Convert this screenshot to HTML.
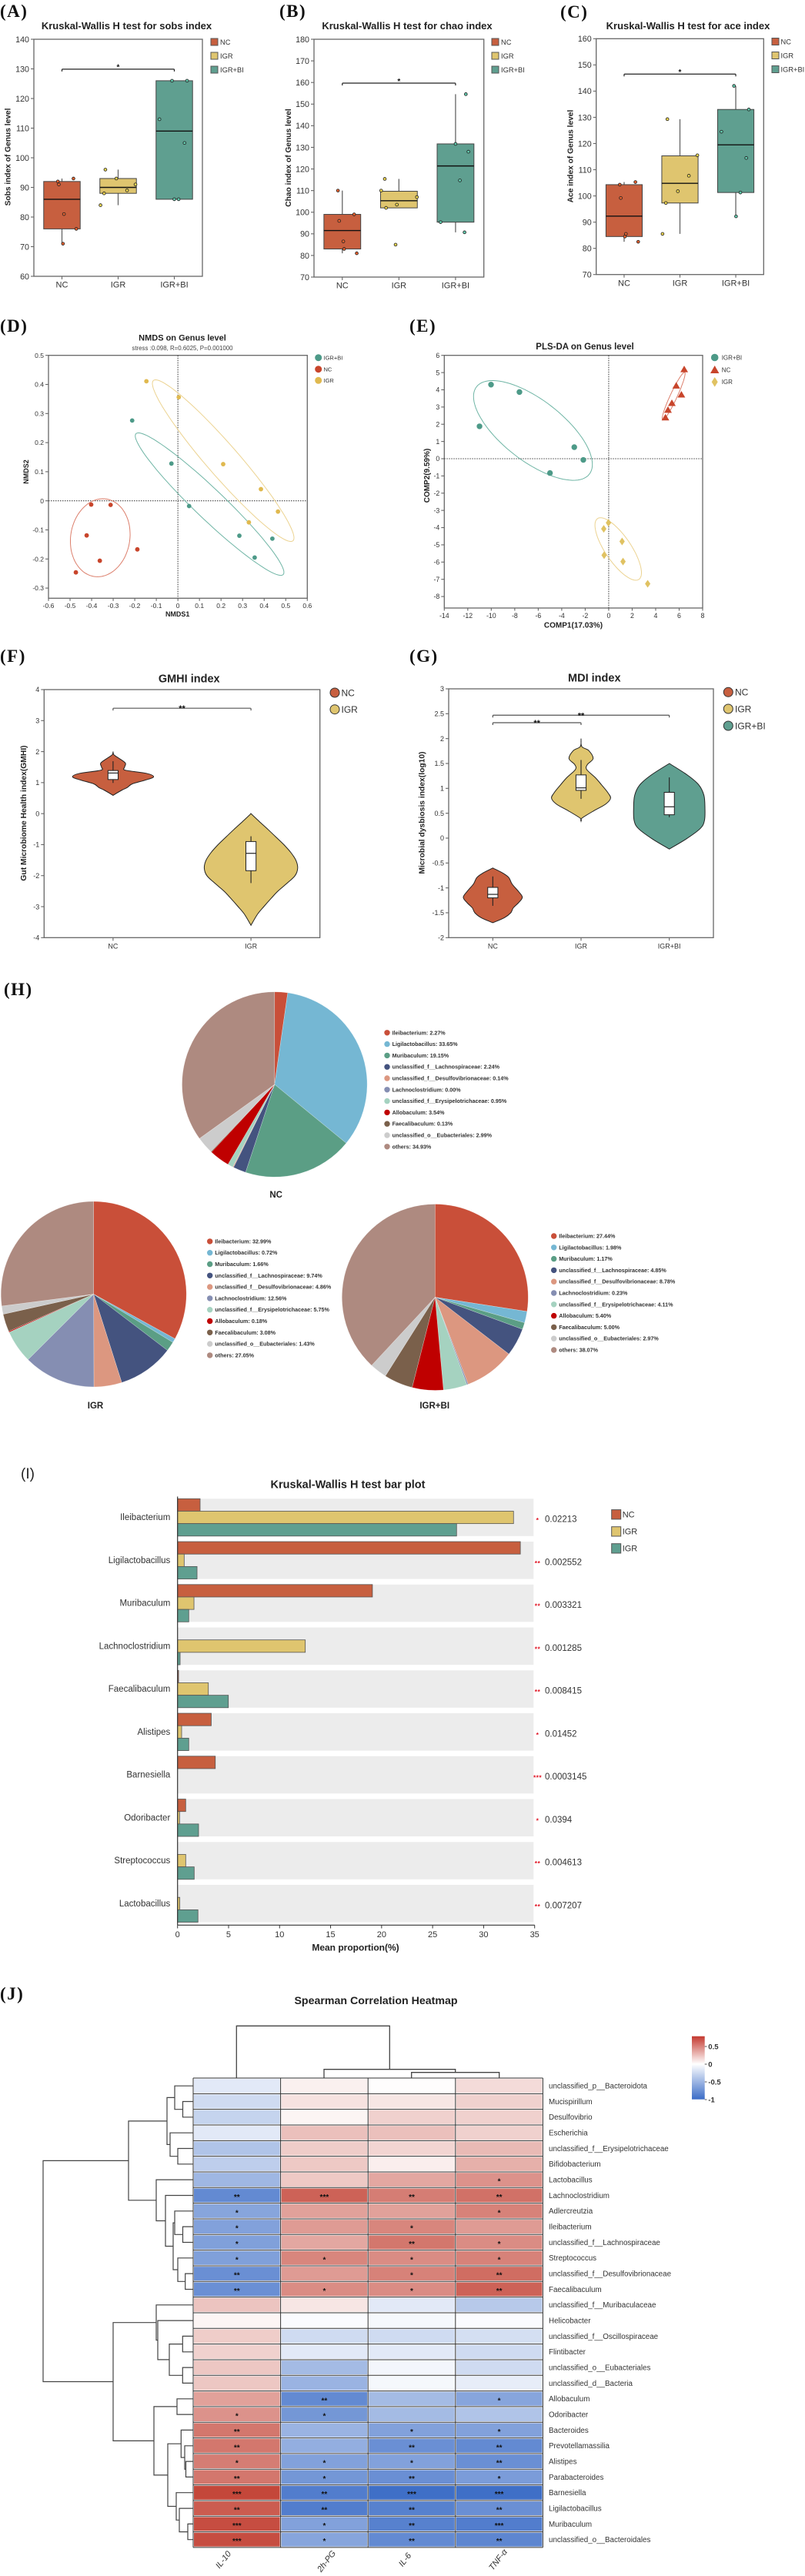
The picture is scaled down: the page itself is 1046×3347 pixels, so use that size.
<!DOCTYPE html>
<html lang="en">
<head>
<meta charset="utf-8">
<title>Gut microbiota figure</title>
<style>
html,body{margin:0;padding:0;background:#fff;}
svg{display:block;font-family:"Liberation Sans",sans-serif;}
.pl{font-family:"Liberation Serif",serif;font-weight:bold;font-size:23px;letter-spacing:1.5px;fill:#111;}
.t{font-weight:bold;fill:#222;text-anchor:middle;}
.yl{font-weight:bold;fill:#222;text-anchor:middle;}
.lg{fill:#333;}
.pie-l{font-weight:bold;font-size:7.2px;fill:#333;}
</style>
</head>
<body>
<svg id="root" xmlns="http://www.w3.org/2000/svg" width="1046" height="3347" viewBox="0 0 1046 3347">
<defs>
<linearGradient id="cbar" x1="0" y1="0" x2="0" y2="1">
<stop offset="0" stop-color="#c4392f"/>
<stop offset="0.44" stop-color="#ffffff"/>
<stop offset="1" stop-color="#3b6cc7"/>
</linearGradient>
</defs>
<rect x="0" y="0" width="1046" height="3347" fill="#fff"/>

<text class="pl" x="0" y="22">(A)</text>
<text class="pl" x="363" y="22">(B)</text>
<text class="pl" x="728" y="23">(C)</text>
<text class="pl" x="0" y="431">(D)</text>
<text class="pl" x="532" y="431">(E)</text>
<text class="pl" x="0" y="860">(F)</text>
<text class="pl" x="532" y="860">(G)</text>
<text class="pl" x="5" y="1293">(H)</text>
<text x="27" y="1921" font-size="19" fill="#222">(I)</text>
<text class="pl" x="0" y="2598">(J)</text>

<g id="panel-a">
<text class="t" x="164.5" y="38" font-size="13">Kruskal-Wallis H test for sobs index</text>
<text class="yl" font-size="10.2" transform="translate(13.5,204) rotate(-90)">Sobs index of Genus level</text>
</g>
<g id="panel-b">
<text class="t" x="529" y="38" font-size="13">Kruskal-Wallis H test for chao index</text>
<text class="yl" font-size="10.2" transform="translate(378,205) rotate(-90)">Chao index of Genus level</text>
</g>
<g id="panel-c">
<text class="t" x="894" y="38" font-size="13">Kruskal-Wallis H test for ace index</text>
<text class="yl" font-size="10.2" transform="translate(744.5,203) rotate(-90)">Ace index of Genus level</text>
</g>

<g>
<rect x="274" y="50" width="9" height="9" fill="#c75f3f" stroke="#555"/>
<text class="lg" x="286" y="58" font-size="9.3">NC</text>
<rect x="274" y="68" width="9" height="9" fill="#dfc56f" stroke="#555"/>
<text class="lg" x="286" y="76" font-size="9.3">IGR</text>
<rect x="274" y="86" width="9" height="9" fill="#5f9f90" stroke="#555"/>
<text class="lg" x="286" y="94" font-size="9.3">IGR+BI</text>
</g>
<g>
<rect x="639" y="50" width="9" height="9" fill="#c75f3f" stroke="#555"/>
<text class="lg" x="651" y="58" font-size="9.3">NC</text>
<rect x="639" y="68" width="9" height="9" fill="#dfc56f" stroke="#555"/>
<text class="lg" x="651" y="76" font-size="9.3">IGR</text>
<rect x="639" y="86" width="9" height="9" fill="#5f9f90" stroke="#555"/>
<text class="lg" x="651" y="94" font-size="9.3">IGR+BI</text>
</g>
<g>
<rect x="1003" y="49.5" width="9" height="9" fill="#c75f3f" stroke="#555"/>
<text class="lg" x="1014.5" y="57.5" font-size="9.3">NC</text>
<rect x="1003" y="67.5" width="9" height="9" fill="#dfc56f" stroke="#555"/>
<text class="lg" x="1014.5" y="75.5" font-size="9.3">IGR</text>
<rect x="1003" y="85.5" width="9" height="9" fill="#5f9f90" stroke="#555"/>
<text class="lg" x="1014.5" y="93.5" font-size="9.3">IGR+BI</text>
</g>

<g id="panel-d">
<text class="t" x="237" y="442.5" font-size="11">NMDS on Genus level</text>
<text x="237" y="455" font-size="7.9" fill="#444" text-anchor="middle">stress :0.098, R=0.6025, P=0.001000</text>
<text class="t" x="230.7" y="801" font-size="9">NMDS1</text>
<text class="yl" font-size="9" transform="translate(37,613) rotate(-90)">NMDS2</text>
<circle cx="413.7" cy="464.7" r="4.5" fill="#4d9a88"/>
<text class="lg" x="420.5" y="467.5" font-size="7.5">IGR+BI</text>
<circle cx="413.7" cy="479.7" r="4.5" fill="#c8452b"/>
<text class="lg" x="420.5" y="482.5" font-size="7.5">NC</text>
<circle cx="413.7" cy="494.3" r="4.5" fill="#e0b94f"/>
<text class="lg" x="420.5" y="497" font-size="7.5">IGR</text>
</g>

<g id="panel-e">
<text class="t" x="760" y="454" font-size="11.5">PLS-DA on Genus level</text>
<text class="t" x="745" y="815.5" font-size="10">COMP1(17.03%)</text>
<text class="yl" font-size="10" transform="translate(558,618) rotate(-90)">COMP2(9.59%)</text>
<circle cx="928.7" cy="464.5" r="4.8" fill="#4d9a88"/>
<text class="lg" x="937.7" y="467.5" font-size="8">IGR+BI</text>
<polygon points="923,485 934.4,485 928.7,475" fill="#c8452b"/>
<text class="lg" x="937.7" y="483.5" font-size="8">NC</text>
<polygon points="928.7,490 932.7,496.3 928.7,502.6 924.7,496.3" fill="#e0c262"/>
<text class="lg" x="937.7" y="499" font-size="8">IGR</text>
</g>

<g id="panel-f">
<text class="t" x="245.7" y="886.7" font-size="14.5">GMHI index</text>
<text class="yl" font-size="10.3" transform="translate(34,1056.5) rotate(-90)">Gut Microbiome Health index(GMHI)</text>
<circle cx="435" cy="900" r="6" fill="#c75f3f" stroke="#333"/>
<text class="lg" x="443.5" y="904.5" font-size="12">NC</text>
<circle cx="435" cy="921.7" r="6" fill="#dfc56f" stroke="#333"/>
<text class="lg" x="443.5" y="926" font-size="12">IGR</text>
</g>

<g id="panel-g">
<text class="t" x="772.3" y="885.7" font-size="14.5">MDI index</text>
<text class="yl" font-size="10.3" transform="translate(551.5,1056) rotate(-90)">Microbial dysbiosis index(log10)</text>
<circle cx="946.3" cy="899.3" r="6" fill="#c75f3f" stroke="#333"/>
<text class="lg" x="955" y="903.7" font-size="12">NC</text>
<circle cx="946.3" cy="921" r="6" fill="#dfc56f" stroke="#333"/>
<text class="lg" x="955" y="925.4" font-size="12">IGR</text>
<circle cx="946.3" cy="943" r="6" fill="#5f9f90" stroke="#333"/>
<text class="lg" x="955" y="947.4" font-size="12">IGR+BI</text>
</g>

<g id="panel-h">
<text x="358.7" y="1556" font-size="11.5" font-weight="bold" fill="#222" text-anchor="middle">NC</text>
<text x="124" y="1830" font-size="11.5" font-weight="bold" fill="#222" text-anchor="middle">IGR</text>
<text x="564.7" y="1830" font-size="11.5" font-weight="bold" fill="#222" text-anchor="middle">IGR+BI</text>
</g>

<g id="panel-i">
<text class="t" x="452" y="1933.5" font-size="14.5">Kruskal-Wallis H test bar plot</text>
<text class="t" x="462" y="2534.5" font-size="12">Mean proportion(%)</text>
</g>
<g>
<rect x="794.7" y="1961.6" width="12" height="12.3" fill="#c75f3f" stroke="#555"/>
<text class="lg" x="808.7" y="1971.5" font-size="11">NC</text>
<rect x="794.7" y="1983.7" width="12" height="12.3" fill="#dfc56f" stroke="#555"/>
<text class="lg" x="808.7" y="1993.5" font-size="11">IGR</text>
<rect x="794.7" y="2005.7" width="12" height="12.3" fill="#5f9f90" stroke="#555"/>
<text class="lg" x="808.7" y="2015.5" font-size="11">IGR</text>
</g>

<g id="panel-j">
<text class="t" x="488.5" y="2604" font-size="14.2">Spearman Correlation Heatmap</text>
<text x="0" y="0" font-size="11" font-style="italic" fill="#333" text-anchor="middle" transform="translate(293,3328) rotate(-52)">IL-10</text>
<text x="0" y="0" font-size="11" font-style="italic" fill="#333" text-anchor="middle" transform="translate(427,3330) rotate(-52)">2h-PG</text>
<text x="0" y="0" font-size="11" font-style="italic" fill="#333" text-anchor="middle" transform="translate(529,3328) rotate(-52)">IL-6</text>
<text x="0" y="0" font-size="11" font-style="italic" fill="#333" text-anchor="middle" transform="translate(650,3328) rotate(-52)">TNF-α</text>
<rect x="899" y="2645.7" width="16.7" height="82" fill="url(#cbar)"/>
<text x="920.3" y="2662.5" font-size="9.5" font-weight="bold" fill="#333">0.5</text>
<text x="920.3" y="2685.5" font-size="9.5" font-weight="bold" fill="#333">0</text>
<text x="920.3" y="2708.5" font-size="9.5" font-weight="bold" fill="#333">-0.5</text>
<text x="920.3" y="2731.5" font-size="9.5" font-weight="bold" fill="#333">-1</text>
<path d="M307.3 2700V2632.3H506.3V2688.7M421 2700V2688.7H591.7V2692.7M534.7 2700V2692.7H648.7V2700" fill="none" stroke="#444" stroke-width="1.3"/>
</g>

<script>
/* ---------- box plot data ---------- */
const boxCats = ['NC','IGR','IGR+BI'];
const boxFills = ['#c75f3f','#dfc56f','#5f9f90'];
const pointFills = ['#e8612e','#f0d751','#62c9ad'];

const sobsTicks = [60,70,80,90,100,110,120,130,140];
const sobsLow  = [71,84,86];
const sobsQ1   = [76,88,86];
const sobsMed  = [86,90,109];
const sobsQ3   = [92,93,126];
const sobsHigh = [93,96,126];
const sobsPtsY = [[92,91,93,81,76,71],[96,93,91,89,88,84],[126,126,113,105,86,86]];
const sobsPtsJ = [[-.073,-.055,.205,.036,.255,.018],[-.227,-.032,.309,.159,-.25,-.314],[-.041,.227,-.264,.182,0,.077]];

const chaoTicks = [70,80,90,100,110,120,130,140,150,160,170,180];
const chaoLow  = [81,102,90.7];
const chaoQ1   = [83,102,95.4];
const chaoMed  = [91.5,105.3,121.4];
const chaoQ3   = [99,109.7,131.6];
const chaoHigh = [110,115.4,154.6];
const chaoPtsY = [[110,99,96,86.5,83,81],[115.4,110,102,103.5,85,107],[154.6,131.6,128,114.7,95.4,90.7]];
const chaoPtsJ = [[-.077,.209,-.055,.018,.032,.255],[-.25,-.314,-.227,-.036,-.059,.318],[.182,0,.227,.077,-.264,.159]];

const aceTicks = [70,80,90,100,110,120,130,140,150,160];
const aceLow  = [82.5,85.5,92.2];
const aceQ1   = [84.5,97.3,101.3];
const aceMed  = [92.3,104.8,119.5];
const aceQ3   = [104.3,115.3,133];
const aceHigh = [105.3,129.3,142];
const acePtsY = [[104.3,105.3,99.2,85.5,84.5,82.5],[129.3,115.5,107.7,101.8,97.3,85.5],[142,133,124.5,114.5,101.3,92.2]];
const acePtsJ = [[-.078,.202,-.06,.032,.014,.252],[-.225,.312,.16,-.037,-.252,-.312],[-.032,.234,-.257,.188,.083,.005]];

/* ---------- NMDS ---------- */
const nmdsXTicks = [-0.6,-0.5,-0.4,-0.3,-0.2,-0.1,0,0.1,0.2,0.3,0.4,0.5,0.6];
const nmdsYTicks = [-0.3,-0.2,-0.1,0,0.1,0.2,0.3,0.4,0.5];
const nmdsBiX = [-.212,-.03,.052,.285,.356,.438];
const nmdsBiY = [.276,.128,-.018,-.12,-.195,-.13];
const nmdsNcX = [-.402,-.312,-.423,-.188,-.362,-.473];
const nmdsNcY = [-.013,-.014,-.119,-.167,-.206,-.246];
const nmdsIgX = [-.146,.004,.21,.385,.464,.329];
const nmdsIgY = [.411,.356,.126,.04,-.037,-.074];
const nmdsEllBi = [.147,-.0114,.3413,-.2421,.0476,.037];
const nmdsEllNc = [-.36,-.127,.0214,.1338,.1368,-.0088];
const nmdsEllIg = [.21,.138,.3235,-.2755,.0557,.0358];

/* ---------- PLS-DA ---------- */
const plsXTicks = [-14,-12,-10,-8,-6,-4,-2,0,2,4,6,8];
const plsYTicks = [-8,-7,-6,-5,-4,-3,-2,-1,0,1,2,3,4,5,6];
const plsBiX = [-10.02,-7.6,-11,-2.93,-2.16,-5];
const plsBiY = [4.3,3.87,1.88,.67,-.07,-.83];
const plsNcX = [6.43,5.75,6.19,5.38,5.05,4.83];
const plsNcY = [5.2,4.25,3.73,3.24,2.84,2.4];
const plsIgX = [-.02,-.42,1.14,-.39,1.22,3.32];
const plsIgY = [-3.72,-4.07,-4.8,-5.6,-5.97,-7.26];
const plsEllBi = [-6.45,1.64,4.8,-2.54,1.6,1.39];
const plsEllNc = [5.53,3.63,.94,1.38,.262,-.089];
const plsEllIg = [.81,-5.24,1.758,-1.766,.91,.416];

/* ---------- violins: value / density pairs ---------- */
const gmhiTicks = [-4,-3,-2,-1,0,1,2,3,4];
const gmhiCats = ['NC','IGR'];
const gmhiNcVal = [2.0,1.9,1.79,1.63,1.5,1.4,1.3,1.19,1.09,.96,.84,.76,.59];
const gmhiNcDen = [0,3,22,48,45,48,130,158,130,75,55,35,0];
const gmhiIgVal = [0,-.25,-.5,-.75,-1,-1.25,-1.5,-1.75,-2,-2.25,-2.5,-2.72,-3,-3.25,-3.6];
const gmhiIgDen = [0,32,65,97,128,155,175,182,172,140,105,80,50,25,0];
const gmhiLow = [.99,-2.24], gmhiQ1 = [1.1,-1.84], gmhiMed = [1.31,-1.28], gmhiQ3 = [1.39,-.9], gmhiHigh = [1.69,-.73];

const mdiTicks = [-2,-1.5,-1,-0.5,0,0.5,1,1.5,2,2.5,3];
const mdiNcVal = [-.6,-.7,-.79,-.92,-1.07,-1.19,-1.3,-1.4,-1.5,-1.6,-1.7];
const mdiNcDen = [0,38,62,75,100,115,100,80,70,45,0];
const mdiIgVal = [2.0,1.84,1.76,1.6,1.48,1.38,1.22,1.07,.91,.8,.68,.55,.4,.34];
const mdiIgDen = [0,3,30,47,25,22,55,80,105,115,95,50,3,0];
const mdiBiVal = [1.5,1.27,1.07,.86,.6,.35,.19,-.02,-.22];
const mdiBiDen = [0,70,115,135,139,137,120,65,0];
const mdiLow = [-1.36,.79,.42], mdiQ1 = [-1.2,.96,.47], mdiMed = [-1.13,1.01,.63], mdiQ3 = [-.99,1.27,.92], mdiHigh = [-.77,1.57,1.22];

/* ---------- pies ---------- */
const pieGenera = ['Ileibacterium','Ligilactobacillus','Muribaculum','unclassified_f__Lachnospiraceae','unclassified_f__Desulfovibrionaceae','Lachnoclostridium','unclassified_f__Erysipelotrichaceae','Allobaculum','Faecalibaculum','unclassified_o__Eubacteriales','others'];
const pieColors = ['#c94f39','#75b7d3','#5b9e85','#44537f','#dc9780','#858eb2','#a5d2c0','#bf0000','#7a604b','#cccccc','#ae8a80'];
const pieNc = [2.27,33.65,19.15,2.24,0.14,0.00,0.95,3.54,0.13,2.99,34.93];
const pieIgr = [32.99,0.72,1.66,9.74,4.86,12.56,5.75,0.18,3.08,1.43,27.05];
const pieBi = [27.44,1.98,1.17,4.85,8.78,0.23,4.11,5.40,5.00,2.97,38.07];

/* ---------- bar plot ---------- */
const barGenera = ['Ileibacterium','Ligilactobacillus','Muribaculum','Lachnoclostridium','Faecalibaculum','Alistipes','Barnesiella','Odoribacter','Streptococcus','Lactobacillus'];
const barNc = [2.21,33.6,19.1,0,.1,3.3,3.7,.8,0,0];
const barIgr = [32.93,.65,1.61,12.52,3.02,.4,0,.2,.8,.22];
const barBi = [27.35,1.91,1.1,.25,4.98,1.1,0,2.06,1.63,2];
const barP = ['0.02213','0.002552','0.003321','0.001285','0.008415','0.01452','0.0003145','0.0394','0.004613','0.007207'];
const barSig = ['*','**','**','**','**','*','***','*','**','**'];
const barTicks = [0,5,10,15,20,25,30,35];

/* ---------- heatmap ---------- */
const heatRows = ['unclassified_p__Bacteroidota','Mucispirillum','Desulfovibrio','Escherichia','unclassified_f__Erysipelotrichaceae','Bifidobacterium','Lactobacillus','Lachnoclostridium','Adlercreutzia','Ileibacterium','unclassified_f__Lachnospiraceae','Streptococcus','unclassified_f__Desulfovibrionaceae','Faecalibaculum','unclassified_f__Muribaculaceae','Helicobacter','unclassified_f__Oscillospiraceae','Flintibacter','unclassified_o__Eubacteriales','unclassified_d__Bacteria','Allobaculum','Odoribacter','Bacteroides','Prevotellamassilia','Alistipes','Parabacteroides','Barnesiella','Ligilactobacillus','Muribaculum','unclassified_o__Bacteroidales'];
const heatValues = [
[-.12,.07,.01,.17],[-.2,.14,.12,.22],[-.24,.05,.22,.22],[-.12,.3,.3,.22],[-.33,.24,.2,.33],
[-.27,.26,.08,.38],[-.4,.26,.42,.52],[-.65,.75,.62,.68],[-.5,.45,.45,.6],[-.52,.48,.58,.48],
[-.53,.42,.65,.55],[-.53,.58,.55,.6],[-.62,.48,.6,.7],[-.62,.55,.55,.75],[.28,.12,-.12,-.3],
[.05,-.02,-.04,-.02],[.24,-.2,-.2,-.18],[.22,-.12,-.12,-.2],[.27,-.38,-.05,-.2],[.27,-.42,-.04,-.1],
[.45,-.65,-.38,-.5],[.52,-.58,-.38,-.33],[.65,-.42,-.52,-.52],[.65,-.45,-.62,-.65],[.62,-.52,-.52,-.62],
[.65,-.58,-.62,-.55],[.9,-.72,-.82,-.8],[.78,-.72,-.7,-.62],[.85,-.52,-.7,-.72],[.85,-.5,-.65,-.67]];
const heatSig = [
[0,0,0,0],[0,0,0,0],[0,0,0,0],[0,0,0,0],[0,0,0,0],[0,0,0,0],[0,0,0,1],[2,3,2,2],[1,0,0,1],[1,0,1,0],
[1,0,2,1],[1,1,1,1],[2,0,1,2],[2,1,1,2],[0,0,0,0],[0,0,0,0],[0,0,0,0],[0,0,0,0],[0,0,0,0],[0,0,0,0],
[0,2,0,1],[1,1,0,0],[2,0,1,1],[2,0,2,2],[1,1,1,2],[2,1,2,1],[3,2,3,3],[2,2,2,2],[3,1,2,3],[3,1,2,2]];
/* row dendrogram: [merge distance, left child, right child]; a number is a row index */
const rowTree = [195,
  [84,
    [34,[24,0,[13.5,1,2]],[30,3,[20,4,5]]],
    [48,6,[36,7,[26,[24,8,[13.5,9,10]],[20,11,[10.3,12,13]]]]]],
  [104,
    [48,14,[46,15,[31,[13.7,16,17],[13.7,18,19]]]],
    [51,[21,20,21],[33,[15.7,22,[11,23,[9.5,24,25]]],[22,26,[18,27,[7,28,29]]]]]]];

/* ---------- helpers ---------- */
const NS = 'http://www.w3.org/2000/svg';
const root = document.getElementById('root');
function mk(tag, attrs, parent){
  const e = document.createElementNS(NS, tag);
  for (const k in attrs) e.setAttribute(k, attrs[k]);
  (parent || root).appendChild(e);
  return e;
}
function label(str, attrs, parent){
  const e = mk('text', attrs, parent);
  e.textContent = str;
  return e;
}
function linear(d0, d1, r0, r1){ return v => r0 + (v - d0) / (d1 - d0) * (r1 - r0); }
const AXIS = '#666';

function frame(g, b, yTicks, sy, fs, xTicksFn){
  const fr = mk('rect', {x:b.l,y:b.t,width:b.r-b.l,height:b.b-b.t,fill:'none',stroke:AXIS,'stroke-width':1.3}, g);
  
  
  yTicks.forEach(v => {
    const t = mk('line', {x1:b.l-4,x2:b.l,y1:sy(v),y2:sy(v),stroke:AXIS,'stroke-width':1.1}, g);
    
    
    const l = label(String(v), {x:b.l-6,y:sy(v)+fs*0.36,'font-size':fs,fill:'#333','text-anchor':'end'}, g);
    
    
  });
  xTicksFn();
}
function catTicks(g, b, cats, cx, fs, base){
  cats.forEach((c, i) => {
    const t = mk('line', {x1:cx(i),x2:cx(i),y1:b.b,y2:b.b+4,stroke:AXIS,'stroke-width':1.1}, g);
    
    
    const l = label(c, {x:cx(i),y:base,'font-size':fs,fill:'#333','text-anchor':'middle'}, g);
    
    
  });
}
function bracket(g, x1, x2, y, stroke, sig, fs, dy){
  const p = mk('path', {d:`M${x1} ${y+3}V${y+1}Q${x1} ${y} ${x1+1} ${y}H${x2-1}Q${x2} ${y} ${x2} ${y+1}V${y+3}`,fill:'none',stroke:stroke,'stroke-width':1.2}, g);
  
  
  const s = label(sig, {x:(x1+x2)/2,y:y+dy,'font-size':fs,'font-weight':'bold',fill:'#111','text-anchor':'middle'}, g);
  
  
}

function boxPlot(gid, b, ticks, base, low, q1, med, q3, high, ptsY, ptsJ, brVal){
  const g = document.getElementById(gid);
  const sy = linear(ticks[0], ticks[ticks.length-1], b.b, b.t);
  const band = (b.r - b.l) / boxCats.length;
  const cx = i => b.l + (i + .5) * band;
  const w = band * 0.65;
  frame(g, b, ticks, sy, 10.7, () => catTicks(g, b, boxCats, cx, 11, base));
  boxCats.forEach((c, i) => {
    const wh = mk('line', {x1:cx(i),x2:cx(i),y1:sy(high[i]),y2:sy(low[i]),stroke:'#666','stroke-width':1.3}, g);
    
    
    const r = mk('rect', {x:cx(i)-w/2,y:sy(q3[i]),width:w,height:sy(q1[i])-sy(q3[i]),fill:boxFills[i],stroke:'#444','stroke-width':1}, g);
    
    
    const m = mk('line', {x1:cx(i)-w/2,x2:cx(i)+w/2,y1:sy(med[i]),y2:sy(med[i]),stroke:'#111','stroke-width':1.4}, g);
    
    
    ptsY[i].forEach((v, k) => {
      const d = mk('circle', {cx:cx(i)+ptsJ[i][k]*band,cy:sy(v),r:1.9,fill:pointFills[i],stroke:'#222','stroke-width':.8}, g);
      
      
    });
  });
  bracket(g, cx(0), cx(2), sy(brVal), '#222', '*', 10, 0.8);
}

function ell(g, e, sx, sy, color){
  let pts = [];
  for (let i = 0; i < 96; i++){
    const t = i / 96 * Math.PI * 2;
    const x = e[0] + e[2]*Math.cos(t) + e[4]*Math.sin(t);
    const y = e[1] + e[3]*Math.cos(t) + e[5]*Math.sin(t);
    pts.push(sx(x).toFixed(1) + ',' + sy(y).toFixed(1));
  }
  const p = mk('polygon', {points:pts.join(' '),fill:'none',stroke:color,'stroke-width':1}, g);
  
  
}
function scatterFrame(g, b, xTicks, yTicks, sx, sy, fs, base){
  frame(g, b, yTicks, sy, fs, () => {
    xTicks.forEach(v => {
      const t = mk('line', {x1:sx(v),x2:sx(v),y1:b.b,y2:b.b+3.5,stroke:AXIS,'stroke-width':1.1}, g);
      
      
      const l = label(String(v), {x:sx(v),y:base,'font-size':fs,fill:'#333','text-anchor':'middle'}, g);
      
      
    });
  });
  const h = mk('line', {x1:b.l,x2:b.r,y1:sy(0),y2:sy(0),stroke:'#444','stroke-width':1.1,'stroke-dasharray':'1.5 1.5'}, g);
  
  
  const v = mk('line', {x1:sx(0),x2:sx(0),y1:b.t,y2:b.b,stroke:'#444','stroke-width':1.1,'stroke-dasharray':'1.5 1.5'}, g);
  
  
}

/* ---------- draw box plots ---------- */
boxPlot('panel-a',{l:44,r:263,t:51,b:359},sobsTicks,373.3,sobsLow,sobsQ1,sobsMed,sobsQ3,sobsHigh,sobsPtsY,sobsPtsJ,129.9);
boxPlot('panel-b',{l:408,r:628.7,t:51,b:360},chaoTicks,374.5,chaoLow,chaoQ1,chaoMed,chaoQ3,chaoHigh,chaoPtsY,chaoPtsJ,159.7);
boxPlot('panel-c',{l:774.7,r:992.3,t:50.3,b:356.7},aceTicks,371.3,aceLow,aceQ1,aceMed,aceQ3,aceHigh,acePtsY,acePtsJ,146.5);

/* ---------- NMDS ---------- */
(function(){
  const g = document.getElementById('panel-d');
  const b = {l:63,r:399.3,t:461.7,b:777.3};
  const sx = linear(-0.6,0.6,b.l,b.r);
  const sy = linear(0,0.5,650.7,461.7);
  scatterFrame(g,b,nmdsXTicks,nmdsYTicks,sx,sy,8.5,790);
  ell(g,nmdsEllBi,sx,sy,'#6fb5a5');
  ell(g,nmdsEllNc,sx,sy,'#dc7f6c');
  ell(g,nmdsEllIg,sx,sy,'#ecd391');
  nmdsBiX.forEach((x,i) => {
    const c = mk('circle',{cx:sx(x),cy:sy(nmdsBiY[i]),r:2.9,fill:'#4d9a88'},g);
    
    
  });
  nmdsNcX.forEach((x,i) => {
    const c = mk('circle',{cx:sx(x),cy:sy(nmdsNcY[i]),r:2.9,fill:'#c8452b'},g);
    
    
  });
  nmdsIgX.forEach((x,i) => {
    const c = mk('circle',{cx:sx(x),cy:sy(nmdsIgY[i]),r:2.9,fill:'#e0b94f'},g);
    
    
  });
})();

/* ---------- PLS-DA ---------- */
(function(){
  const g = document.getElementById('panel-e');
  const b = {l:577.3,r:913,t:461.7,b:790};
  const sx = linear(-14,8,b.l,b.r);
  const sy = linear(0,6,596,461.7);
  scatterFrame(g,b,plsXTicks,plsYTicks,sx,sy,8.8,803);
  ell(g,plsEllBi,sx,sy,'#6fb5a5');
  ell(g,plsEllNc,sx,sy,'#dc7f6c');
  ell(g,plsEllIg,sx,sy,'#ecd391');
  plsBiX.forEach((x,i) => {
    const c = mk('circle',{cx:sx(x),cy:sy(plsBiY[i]),r:3.7,fill:'#4d9a88'},g);
    
    
  });
  plsNcX.forEach((x,i) => {
    const X = sx(x), Y = sy(plsNcY[i]);
    const c = mk('polygon',{points:`${X-5},${Y+4} ${X+5},${Y+4} ${X},${Y-4.5}`,fill:'#c8452b'},g);
    
    
  });
  plsIgX.forEach((x,i) => {
    const X = sx(x), Y = sy(plsIgY[i]);
    const c = mk('polygon',{points:`${X},${Y-5} ${X+3.5},${Y} ${X},${Y+5} ${X-3.5},${Y}`,fill:'#e0c262'},g);
    
    
  });
})();

/* ---------- violins ---------- */
function curve(pts){
  let d = '';
  for (let i = 0; i < pts.length-1; i++){
    const p0 = pts[Math.max(i-1,0)], p1 = pts[i], p2 = pts[i+1], p3 = pts[Math.min(i+2,pts.length-1)];
    const c1 = [p1[0]+(p2[0]-p0[0])/6, p1[1]+(p2[1]-p0[1])/6];
    const c2 = [p2[0]-(p3[0]-p1[0])/6, p2[1]-(p3[1]-p1[1])/6];
    d += `C${c1[0].toFixed(1)} ${c1[1].toFixed(1)} ${c2[0].toFixed(1)} ${c2[1].toFixed(1)} ${p2[0].toFixed(1)} ${p2[1].toFixed(1)}`;
  }
  return d;
}
function violin(g, x, sy, vals, dens, color){
  const right = vals.map((v,i) => [x+dens[i]/3, sy(v)]);
  const left = vals.map((v,i) => [x-dens[i]/3, sy(v)]).reverse();
  const d = `M${right[0][0]} ${right[0][1]}` + curve(right) + curve(left) + 'Z';
  const p = mk('path',{d:d,fill:color,stroke:'#222','stroke-width':1},g);
  
  
}
function miniBox(g, x, sy, low, q1, med, q3, high){
  const l = mk('line',{x1:x,x2:x,y1:sy(high),y2:sy(low),stroke:'#222','stroke-width':1.1},g);
  
  
  const r = mk('rect',{x:x-6.6,y:sy(q3),width:13.2,height:sy(q1)-sy(q3),fill:'#fff',stroke:'#222','stroke-width':1},g);
  
  
  const m = mk('line',{x1:x-6.6,x2:x+6.6,y1:sy(med),y2:sy(med),stroke:'#222','stroke-width':1.2},g);
  
  
}
(function(){
  const g = document.getElementById('panel-f');
  const b = {l:57.3,r:415.7,t:896,b:1218.3};
  const sy = linear(-4,4,b.b,b.t);
  const band = (b.r-b.l)/2;
  const cx = i => b.l+(i+.5)*band;
  frame(g,b,gmhiTicks,sy,9,() => catTicks(g,b,gmhiCats,cx,9,1232.7));
  violin(g,cx(0),sy,gmhiNcVal,gmhiNcDen,boxFills[0]);
  violin(g,cx(1),sy,gmhiIgVal,gmhiIgDen,boxFills[1]);
  gmhiCats.forEach((c,i) => miniBox(g,cx(i),sy,gmhiLow[i],gmhiQ1[i],gmhiMed[i],gmhiQ3[i],gmhiHigh[i]));
  bracket(g,cx(0),cx(1),sy(3.4),'#555','**',11,4);
})();
(function(){
  const g = document.getElementById('panel-g');
  const b = {l:583,r:927,t:895,b:1218.3};
  const sy = linear(-2,3,b.b,b.t);
  const band = (b.r-b.l)/3;
  const cx = i => b.l+(i+.5)*band;
  frame(g,b,mdiTicks,sy,9,() => catTicks(g,b,boxCats,cx,9,1232.7));
  violin(g,cx(0),sy,mdiNcVal,mdiNcDen,boxFills[0]);
  violin(g,cx(1),sy,mdiIgVal,mdiIgDen,boxFills[1]);
  violin(g,cx(2),sy,mdiBiVal,mdiBiDen,boxFills[2]);
  boxCats.forEach((c,i) => miniBox(g,cx(i),sy,mdiLow[i],mdiQ1[i],mdiMed[i],mdiQ3[i],mdiHigh[i]));
  bracket(g,cx(0),cx(2),sy(2.47),'#555','**',11,4);
  bracket(g,cx(0),cx(1),sy(2.32),'#555','**',11,4);
})();

/* ---------- pies ---------- */
function pie(cx, cy, r, values, lx, ly){
  const g = document.getElementById('panel-h');
  const total = values.reduce((a,b) => a+b, 0);
  let a0 = -Math.PI/2;
  values.forEach((v,i) => {
    const a1 = a0 + v/total*Math.PI*2;
    if (v > 0){
      const big = (a1-a0) > Math.PI ? 1 : 0;
      const d = `M${cx} ${cy}L${(cx+r*Math.cos(a0)).toFixed(2)} ${(cy+r*Math.sin(a0)).toFixed(2)}A${r} ${r} 0 ${big} 1 ${(cx+r*Math.cos(a1)).toFixed(2)} ${(cy+r*Math.sin(a1)).toFixed(2)}Z`;
      const s = mk('path',{d:d,fill:pieColors[i],stroke:'#fff','stroke-width':.25},g);
      
      
    }
    a0 = a1;
    const yy = ly + i*14.8;
    const dot = mk('circle',{cx:lx,cy:yy,r:3.7,fill:pieColors[i]},g);
    
    
    const t = label(`${pieGenera[i]}: ${v.toFixed(2)}%`,{x:lx+6.6,y:yy+2.5,class:'pie-l'},g);
    
    
  });
}
pie(356.8,1409,120.3,pieNc,503,1341.8);
pie(121.7,1681.5,120.5,pieIgr,272.7,1612.9);
pie(565.3,1685.5,121,pieBi,719.7,1606);

/* ---------- bar plot ---------- */
(function(){
  const g = document.getElementById('panel-i');
  const sx = linear(0,35,230.7,694.7);
  const top = 1947.3, step = 55.75, bandH = 48.5, barH = bandH/3;
  const series = [barNc,barIgr,barBi];
  barGenera.forEach((name,i) => {
    const y0 = top + i*step;
    const band = mk('rect',{x:230.7,y:y0,width:462.6,height:bandH,fill:'#ececec'},g);
    
    
    series.forEach((vals,s) => {
      if (vals[i] > 0){
        const r = mk('rect',{x:sx(0),y:y0+s*barH,width:sx(vals[i])-sx(0),height:barH,fill:boxFills[s],stroke:'#555','stroke-width':.8},g);
        
        
      }
    });
    const l = label(name,{x:221.3,y:y0+bandH/2+3.5,'font-size':11.5,fill:'#333','text-anchor':'end'},g);
    
    
    const st = label(barSig[i],{x:698.5,y:y0+bandH/2+6.5,'font-size':8.5,'font-weight':'bold','letter-spacing':'.4',fill:'#e01020','text-anchor':'middle'},g);
    
    
    const p = label(barP[i],{x:708,y:y0+bandH/2+6,'font-size':11.5,fill:'#333'},g);
    
    
  });
  const ya = mk('line',{x1:230.7,x2:230.7,y1:1944.5,y2:2501.3,stroke:'#333','stroke-width':1.2},g);
  
  
  const xa = mk('line',{x1:230.7,x2:694.7,y1:2501.3,y2:2501.3,stroke:'#333','stroke-width':1.2},g);
  
  
  barTicks.forEach(v => {
    const t = mk('line',{x1:sx(v),x2:sx(v),y1:2501.3,y2:2505.5,stroke:'#333','stroke-width':1},g);
    
    
    const l = label(String(v),{x:sx(v),y:2517,'font-size':11,fill:'#333','text-anchor':'middle'},g);
    
    
  });
})();

/* ---------- heatmap ---------- */
function heatColor(v){
  const t = Math.min(Math.abs(v) / (v >= 0 ? 0.88 : 0.8), 1);
  const c = v >= 0 ? [196,71,58] : [63,111,199];
  const ch = k => Math.round(255 + (c[k]-255)*t);
  return `rgb(${ch(0)},${ch(1)},${ch(2)})`;
}
(function(){
  const g = document.getElementById('panel-j');
  const L = 251, T = 2700, cw = 113.6, rh = 20.33;
  const rowY = i => T + (i+.5)*rh;
  heatRows.forEach((name,i) => {
    heatValues[i].forEach((v,j) => {
      const r = mk('rect',{x:L+j*cw,y:T+i*rh,width:cw,height:rh,fill:'#fff'},g);
      
      
      const c = mk('rect',{x:L+j*cw+1,y:T+i*rh+1.2,width:cw-2,height:rh-2.4,fill:heatColor(v)},g);
      
      
      if (heatSig[i][j] > 0){
        const s = label('*'.repeat(heatSig[i][j]),{x:L+(j+.5)*cw,y:rowY(i)+5.5,'font-size':10,'font-weight':'bold',fill:'#111','text-anchor':'middle'},g);
        
        
      }
    });
    const l = label(name,{x:713,y:rowY(i)+3.4,'font-size':9.8,fill:'#333'},g);
    
    
  });
  for (let i = 0; i <= heatRows.length; i++){
    const h = mk('line',{x1:L,x2:L+4*cw,y1:T+i*rh,y2:T+i*rh,stroke:'#333','stroke-width':1},g);
    
    
  }
  for (let j = 0; j <= 4; j++){
    const v = mk('line',{x1:L+j*cw,x2:L+j*cw,y1:T,y2:T+heatRows.length*rh,stroke:'#333','stroke-width':1},g);
    
    
  }
  let dend = '';
  function walk(n){
    if (typeof n === 'number') return {x:L, y:rowY(n)};
    const a = walk(n[1]), b = walk(n[2]), x = L - n[0];
    dend += `M${a.x} ${a.y.toFixed(1)}H${x}V${b.y.toFixed(1)}H${b.x}`;
    return {x:x, y:(a.y+b.y)/2};
  }
  walk(rowTree);
  const dp = mk('path',{d:dend,fill:'none',stroke:'#444','stroke-width':1.2},g);
  
  
  [0.5,0,-0.5,-1].forEach(v => {
    const y = linear(0,1,2682,2636)(v);
    const t = mk('line',{x1:915.7,x2:918.5,y1:y,y2:y,stroke:'#555','stroke-width':1},g);
    
    
  });
})();
</script>
</svg>
</body>
</html>
